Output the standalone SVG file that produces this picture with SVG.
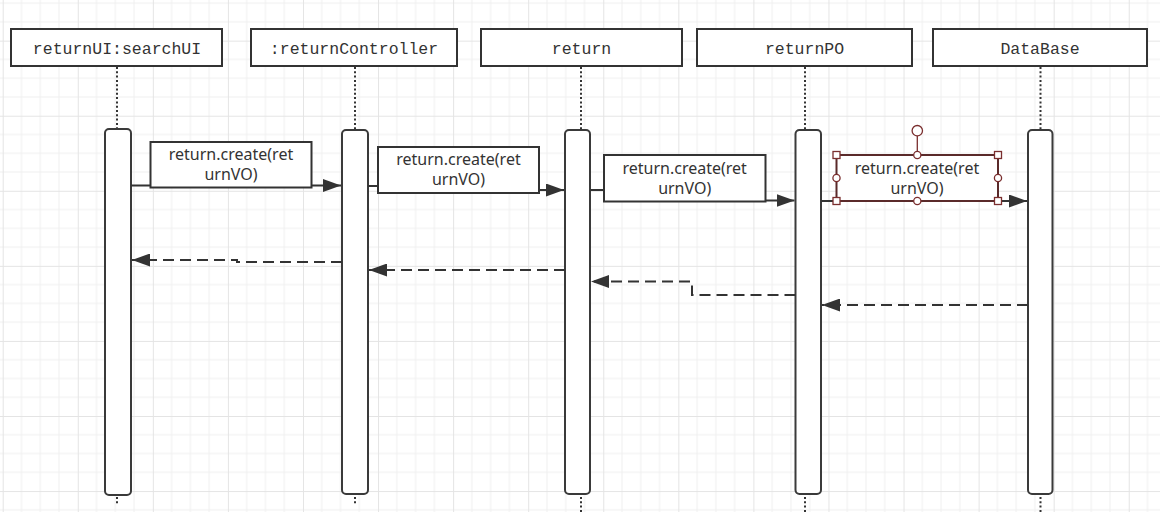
<svg xmlns="http://www.w3.org/2000/svg" width="1160" height="512" viewBox="0 0 1160 512">
  <defs>
    <pattern id="grid" patternUnits="userSpaceOnUse" x="2.7" y="40.65" width="75.07" height="75.07">
      <path d="M18.77,0V75.07M37.53,0V75.07M56.3,0V75.07M0,18.77H75.07M0,37.53H75.07M0,56.3H75.07" stroke="#f0f0f0" stroke-width="1" fill="none"/>
      <path d="M0.5,0V75.07M0,0.5H75.07" stroke="#e4e4e4" stroke-width="1" fill="none"/>
    </pattern>
    <marker id="arrow" markerUnits="userSpaceOnUse" markerWidth="18" markerHeight="13" refX="18" refY="6.5" orient="auto">
      <path d="M0,0 L18,6.5 L0,13 z" fill="#333"/>
    </marker>
    <style>
      .hdr { fill: #fff; stroke: #333; stroke-width: 2; }
      .hdrtxt { font-family: "Liberation Mono", "DejaVu Sans Mono", monospace; font-size: 16.5px; fill: #333; text-anchor: middle; }
      .life { stroke: #333; stroke-width: 2; stroke-dasharray: 2 2.3; fill: none; }
      .bar { fill: #fff; stroke: #3a3a3a; stroke-width: 2; }
      .msg { fill: none; stroke: #333; stroke-width: 2; marker-end: url(#arrow); }
      .ret { fill: none; stroke: #333; stroke-width: 2; stroke-dasharray: 11 6; marker-end: url(#arrow); }
      .lbl { fill: #fff; stroke: #333; stroke-width: 2; }
      .lbltxt { font-family: "Noto Sans", "Open Sans", sans-serif; font-size: 16px; fill: #333; text-anchor: middle; }
      .sel { fill: #fff; stroke: #7a2e2e; stroke-width: 1.3; }
    </style>
  </defs>

  <rect x="0" y="0" width="1160" height="512" fill="#fff"/>
  <rect x="0" y="0" width="1160" height="512" fill="url(#grid)"/>

  <g id="lifeline-returnUI">
    <line class="life" x1="117" y1="67" x2="117" y2="504"/>
    <rect class="hdr" x="11" y="29" width="211" height="37"/>
    <text class="hdrtxt" x="117" y="54">returnUI:searchUI</text>
    <rect class="bar" x="105" y="129" width="26" height="366" rx="4"/>
  </g>

  <g id="lifeline-returnController">
    <line class="life" x1="355" y1="67" x2="355" y2="504"/>
    <rect class="hdr" x="251" y="29" width="206" height="37"/>
    <text class="hdrtxt" x="354" y="54">:returnController</text>
    <rect class="bar" x="342" y="130" width="26" height="364" rx="4"/>
  </g>

  <g id="lifeline-return">
    <line class="life" x1="581" y1="67" x2="581" y2="512"/>
    <rect class="hdr" x="481" y="29" width="201" height="37"/>
    <text class="hdrtxt" x="581.5" y="54">return</text>
    <rect class="bar" x="565" y="130" width="25" height="364" rx="4"/>
  </g>

  <g id="lifeline-returnPO">
    <line class="life" x1="805" y1="67" x2="805" y2="512"/>
    <rect class="hdr" x="697" y="29" width="215" height="37"/>
    <text class="hdrtxt" x="804.5" y="54">returnPO</text>
    <rect class="bar" x="795.5" y="130" width="25.5" height="364" rx="4"/>
  </g>

  <g id="lifeline-DataBase">
    <line class="life" x1="1040.5" y1="67" x2="1040.5" y2="512"/>
    <rect class="hdr" x="933" y="29" width="214" height="37"/>
    <text class="hdrtxt" x="1040" y="54">DataBase</text>
    <rect class="bar" x="1028" y="130" width="24.5" height="364" rx="4"/>
  </g>

  <g id="connectors">
    <!-- forward messages -->
    <polyline class="msg" points="131,185.5 341,185.5"/>
    <polyline class="msg" points="368,186 458,186 458,190 564,190"/>
    <polyline class="msg" points="590,190 685,190 685,200.5 794.5,200.5"/>
    <polyline class="msg" points="821,201 1027,201"/>

    <!-- return messages -->
    <polyline class="ret" points="342,262 237,262 237,260 132,260"/>
    <polyline class="ret" points="565,270 369,270"/>
    <polyline class="ret" points="795.5,295 692,295 692,281.5 591,281.5"/>
    <polyline class="ret" points="1028,305 822,305"/>

    <!-- message labels -->
    <rect class="lbl" x="150.5" y="142" width="161" height="45.5"/>
    <text class="lbltxt" x="231" y="160">return.create(ret</text>
    <text class="lbltxt" x="231" y="180">urnVO)</text>

    <rect class="lbl" x="378" y="147" width="161" height="46"/>
    <text class="lbltxt" x="458.5" y="165">return.create(ret</text>
    <text class="lbltxt" x="458.5" y="185">urnVO)</text>

    <rect class="lbl" x="604" y="155" width="161.5" height="46.5"/>
    <text class="lbltxt" x="684.7" y="173.5">return.create(ret</text>
    <text class="lbltxt" x="684.7" y="193.5">urnVO)</text>

    <rect x="836.5" y="155" width="161.5" height="46" fill="#fff" stroke="#5a2a2a" stroke-width="2"/>
    <text class="lbltxt" x="917" y="173.5">return.create(ret</text>
    <text class="lbltxt" x="917" y="193.5">urnVO)</text>
  </g>

  <g id="selection-handles">
    <line x1="917.3" y1="136" x2="917.3" y2="155" stroke="#7a2e2e" stroke-width="1.3"/>
    <circle class="sel" cx="917.3" cy="130.7" r="5.2"/>
    <rect class="sel" x="833" y="151.5" width="7" height="7"/>
    <rect class="sel" x="994.5" y="151.5" width="7" height="7"/>
    <rect class="sel" x="833" y="197.5" width="7" height="7"/>
    <rect class="sel" x="994.5" y="197.5" width="7" height="7"/>
    <circle class="sel" cx="917.3" cy="155" r="3.6"/>
    <circle class="sel" cx="917.3" cy="201" r="3.6"/>
    <circle class="sel" cx="836.5" cy="178" r="3.6"/>
    <circle class="sel" cx="998" cy="178" r="3.6"/>
  </g>
</svg>
